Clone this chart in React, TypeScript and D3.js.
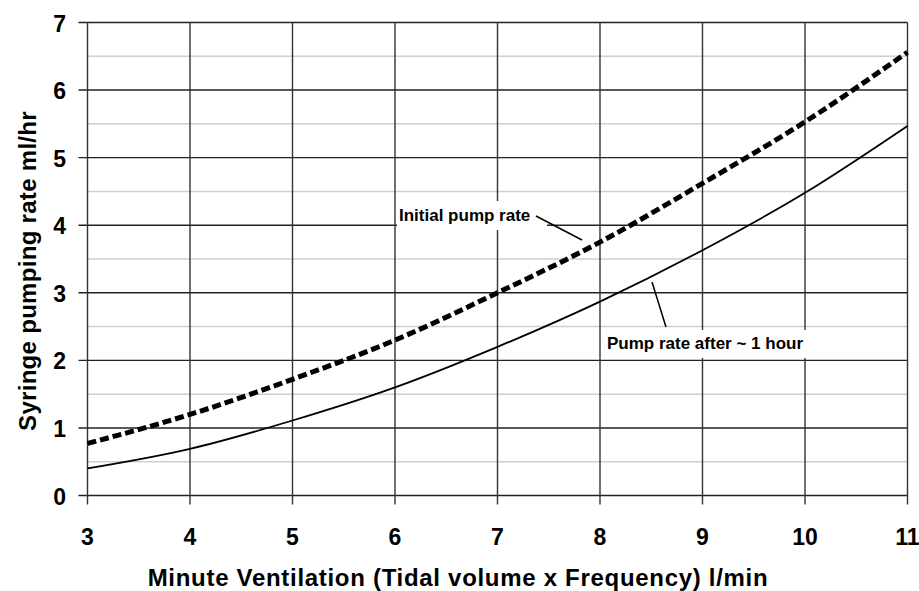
import { scaleLinear, line, curveMonotoneX, range } from 'd3'

// Syringe pump rate vs minute ventilation, two curves.
const ventilation = [3, 4, 5, 6, 7, 8, 9, 10, 11]
const initialRate = [0.77, 1.2, 1.72, 2.3, 3.0, 3.75, 4.62, 5.53, 6.56]
const hourRate = [0.4, 0.69, 1.11, 1.6, 2.2, 2.87, 3.63, 4.48, 5.47]
const xTicks = [3, 4, 5, 6, 7, 8, 9, 10, 11]
const yTicks = [0, 1, 2, 3, 4, 5, 6, 7]

const FONT = '"Liberation Sans", Arial, sans-serif'

export default function App() {
  const width = 919
  const height = 591
  const m = { top: 22.5, right: 11.5, bottom: 95.5, left: 87.5 }
  const x = scaleLinear().domain([3, 11]).range([m.left, width - m.right])
  const y = scaleLinear().domain([0, 7]).range([height - m.bottom, m.top])

  const mk = (vals: number[]) =>
    line<number>()
      .x((_, i) => x(ventilation[i]))
      .y((d) => y(d))
      .curve(curveMonotoneX)(vals) ?? ''

  const minor = range(0.5, 7, 1)

  return (
    <svg
      width={width}
      height={height}
      style={{ position: 'absolute', left: 0, top: 0, background: '#fff' }}
      fontFamily={FONT}
    >
      {/* minor horizontal grid */}
      {minor.map((v) => (
        <line key={'mn' + v} x1={x(3)} x2={x(11)} y1={y(v)} y2={y(v)} stroke="#cfcfcf" strokeWidth={1.5} />
      ))}
      {/* major horizontal grid with ticks */}
      {yTicks.map((v) => (
        <line key={'mj' + v} x1={x(3) - 9} x2={x(11)} y1={y(v)} y2={y(v)} stroke="#222" strokeWidth={1.4} />
      ))}
      {/* vertical grid with ticks */}
      {xTicks.map((v) => (
        <line key={'vx' + v} x1={x(v)} x2={x(v)} y1={y(7)} y2={y(0) + 9} stroke="#333" strokeWidth={1.4} />
      ))}

      {/* label boxes knock out the grid */}
      <rect x={397} y={201} width={150} height={29} fill="#fff" />
      <rect x={604} y={330} width={208} height={28} fill="#fff" />

      <path d={mk(hourRate)} fill="none" stroke="#000" strokeWidth={1.8} />
      <path d={mk(initialRate)} fill="none" stroke="#000" strokeWidth={5} strokeDasharray="9 4" />

      {/* annotations */}
      <line x1={536} y1={216} x2={582} y2={240} stroke="#000" strokeWidth={1.5} />
      <text x={399} y={221} fontSize={17} fontWeight="bold">Initial pump rate</text>
      <line x1={652} y1={282} x2={666} y2={327} stroke="#000" strokeWidth={1.5} />
      <text x={607} y={349} fontSize={17} fontWeight="bold">Pump rate after ~ 1 hour</text>

      {yTicks.map((v) => (
        <text key={'yl' + v} x={66} y={y(v) + 9} textAnchor="end" fontSize={23} fontWeight="bold">
          {v}
        </text>
      ))}
      {xTicks.map((v) => (
        <text key={'xl' + v} x={x(v)} y={545} textAnchor="middle" fontSize={23} fontWeight="bold">
          {v}
        </text>
      ))}

      <text x={458} y={586} textAnchor="middle" fontSize={24} fontWeight="bold" letterSpacing={0.7}>
        Minute Ventilation (Tidal volume x Frequency) l/min
      </text>
      <text
        transform={`translate(36,271) rotate(-90)`}
        textAnchor="middle"
        fontSize={24}
        fontWeight="bold"
        letterSpacing={0.3}
      >
        Syringe pumping rate ml/hr
      </text>
    </svg>
  )
}
